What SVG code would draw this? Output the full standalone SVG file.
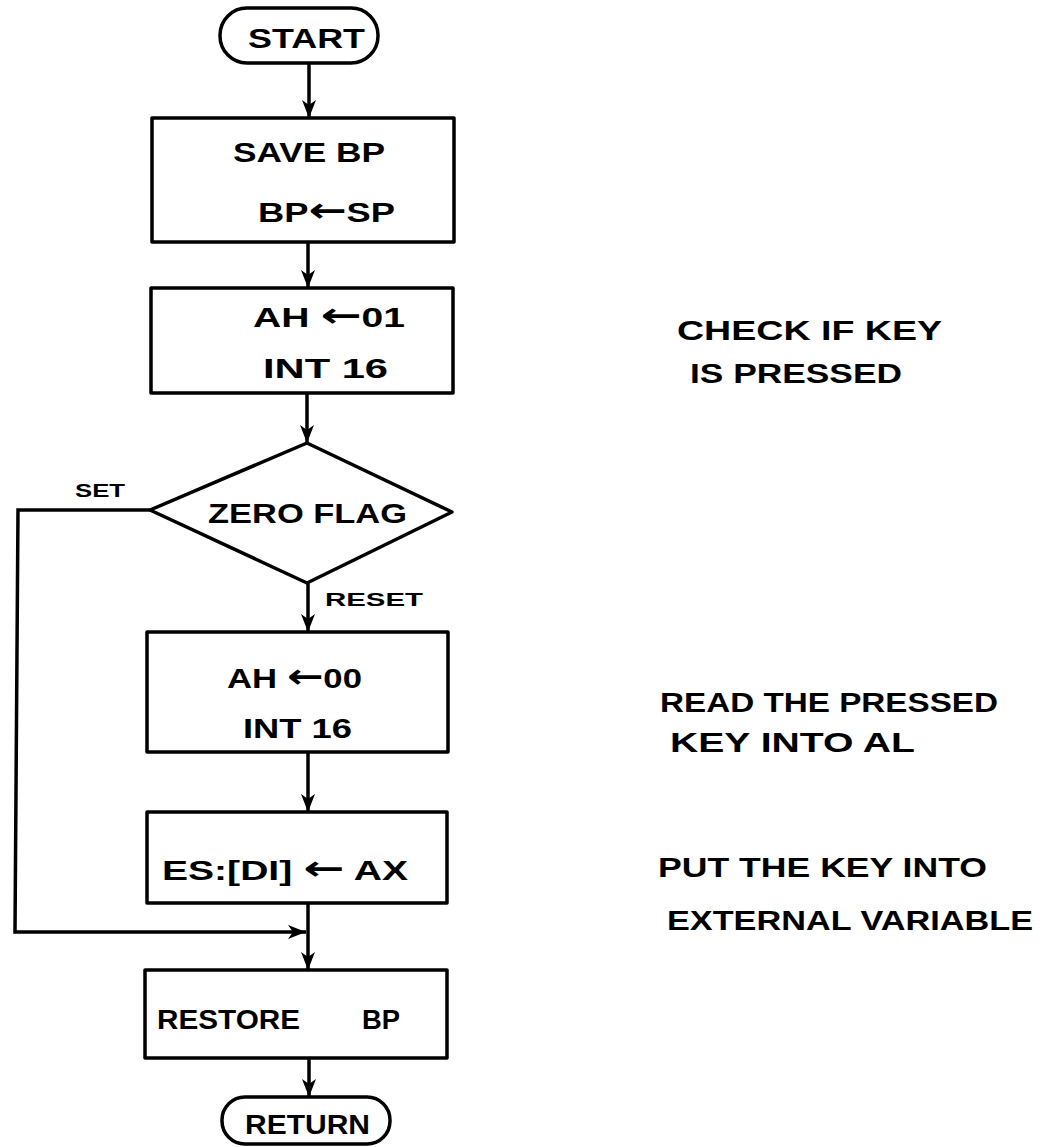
<svg xmlns="http://www.w3.org/2000/svg" width="1049" height="1147" viewBox="0 0 1049 1147">
<style>
.shape{fill:none;stroke:#000;stroke-width:3.5;stroke-linejoin:round}
.conn{fill:none;stroke:#000;stroke-width:3.5}
.t{font-family:"Liberation Sans","DejaVu Sans",sans-serif;font-weight:bold;font-size:27px;fill:#000}
.s{font-family:"Liberation Sans","DejaVu Sans",sans-serif;font-weight:bold;font-size:19px;fill:#000}
.n{font-family:"Liberation Sans","DejaVu Sans",sans-serif;font-weight:bold;font-size:27px;fill:#000}
.ar{font-family:"DejaVu Sans",sans-serif;font-size:34px}
</style>
<defs>
<marker id="ah" viewBox="0 0 18 14" refX="18" refY="7" markerWidth="18" markerHeight="14" markerUnits="userSpaceOnUse" orient="auto">
<path d="M0,0 L18,7 L0,14 L5,7 z" fill="#000"/>
</marker>
</defs>
<rect width="1049" height="1147" fill="#fff"/>
<g id="connectors">
<line class="conn" x1="309" y1="63" x2="309" y2="118" marker-end="url(#ah)"/>
<line class="conn" x1="308" y1="242" x2="308" y2="288" marker-end="url(#ah)"/>
<line class="conn" x1="307" y1="393" x2="307" y2="443" marker-end="url(#ah)"/>
<line class="conn" x1="308" y1="583" x2="308" y2="632" marker-end="url(#ah)"/>
<line class="conn" x1="308" y1="752" x2="308" y2="812" marker-end="url(#ah)"/>
<line class="conn" x1="308" y1="903" x2="308" y2="970" marker-end="url(#ah)"/>
<polyline class="conn" points="150,510 18,510 15,932 306,932" marker-end="url(#ah)"/>
<line class="conn" x1="309" y1="1058" x2="309" y2="1097" marker-end="url(#ah)"/>
<text class="s" x="75" y="497" textLength="50" lengthAdjust="spacingAndGlyphs">SET</text>
<text class="s" x="325" y="606" textLength="98" lengthAdjust="spacingAndGlyphs">RESET</text>
</g>
<g id="start">
<rect class="shape" x="220" y="8" width="158" height="55" rx="27"/>
<text class="t" x="248" y="48" textLength="117" lengthAdjust="spacingAndGlyphs">START</text>
</g>
<g id="save">
<rect class="shape" x="152" y="118" width="302" height="124"/>
<text class="t" x="233" y="162" textLength="152" lengthAdjust="spacingAndGlyphs">SAVE BP</text>
<text class="t" x="258" y="222" textLength="137" lengthAdjust="spacingAndGlyphs">BP<tspan class="ar">←</tspan>SP</text>
</g>
<g id="check">
<rect class="shape" x="151" y="288" width="302" height="105"/>
<text class="t" x="253" y="327" textLength="152" lengthAdjust="spacingAndGlyphs">AH <tspan class="ar">←</tspan>01</text>
<text class="t" x="263" y="378" textLength="125" lengthAdjust="spacingAndGlyphs">INT 16</text>
</g>
<g id="zero">
<polygon class="shape" points="307,443 452,512 307,583 150,510"/>
<text class="t" x="208" y="523" textLength="199" lengthAdjust="spacingAndGlyphs">ZERO FLAG</text>
</g>
<g id="read">
<rect class="shape" x="147" y="632" width="301" height="120"/>
<text class="t" x="227" y="688" textLength="135" lengthAdjust="spacingAndGlyphs">AH <tspan class="ar">←</tspan>00</text>
<text class="t" x="243" y="738" textLength="109" lengthAdjust="spacingAndGlyphs">INT 16</text>
</g>
<g id="store">
<rect class="shape" x="147" y="812" width="300" height="91"/>
<text class="t" x="162" y="880" textLength="246" lengthAdjust="spacingAndGlyphs">ES:[DI] <tspan class="ar">←</tspan> AX</text>
</g>
<g id="restore">
<rect class="shape" x="145" y="970" width="302" height="88"/>
<text class="t" x="157" y="1029" textLength="143" lengthAdjust="spacingAndGlyphs">RESTORE</text>
<text class="t" x="362" y="1029" textLength="38" lengthAdjust="spacingAndGlyphs">BP</text>
</g>
<g id="return">
<rect class="shape" x="222" y="1097" width="168" height="47" rx="23"/>
<text class="t" x="245" y="1134" textLength="125" lengthAdjust="spacingAndGlyphs">RETURN</text>
</g>
<g id="notes">
<text class="n" x="677" y="340" textLength="265" lengthAdjust="spacingAndGlyphs">CHECK  IF  KEY</text>
<text class="n" x="690" y="383" textLength="212" lengthAdjust="spacingAndGlyphs">IS PRESSED</text>
<text class="n" x="660" y="712" textLength="338" lengthAdjust="spacingAndGlyphs">READ THE  PRESSED</text>
<text class="n" x="670" y="752" textLength="245" lengthAdjust="spacingAndGlyphs">KEY INTO AL</text>
<text class="n" x="658" y="877" textLength="329" lengthAdjust="spacingAndGlyphs">PUT THE KEY INTO</text>
<text class="n" x="667" y="930" textLength="366" lengthAdjust="spacingAndGlyphs">EXTERNAL VARIABLE</text>
</g>
</svg>
